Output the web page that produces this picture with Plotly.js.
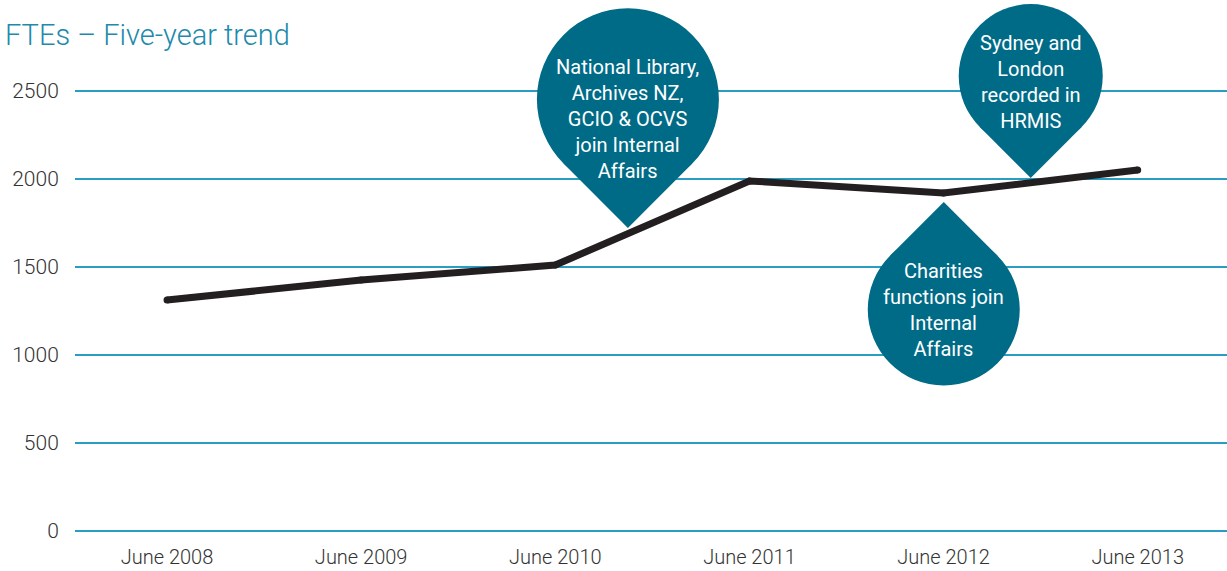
<!DOCTYPE html>
<html>
<head>
<meta charset="utf-8">
<script src="https://cdn.plot.ly/plotly-3.0.1.min.js"></script>
<style>html,body{margin:0;padding:0;background:#fff;}#chart{width:1227px;height:571px;}</style>
</head>
<body>
<div id="chart"></div>
<script>
const categories = ["June 2008", "June 2009", "June 2010", "June 2011", "June 2012", "June 2013"];
const ftes = [1312, 1426, 1511, 1989, 1920, 2051];
const yTicks = [0, 500, 1000, 1500, 2000, 2500];
const calloutTexts = [
  "National Library,<br>Archives NZ,<br>GCIO &amp; OCVS<br>join Internal<br>Affairs",
  "Sydney and<br>London<br>recorded in<br>HRMIS",
  "Charities<br>functions join<br>Internal<br>Affairs"
];

const teal = "#006b87";
const grid = "#2b9cc4";
const FONT = "Roboto, 'Noto Sans', sans-serif";
// callout geometry: tip anchor (category position, value), radius px, direction (+1 = circle above tip), text offset px
const callouts = [
  {ax: 2.374, ay: 1722, r: 91, dir: 1, textDy: -20},
  {ax: 4.449, ay: 2006, r: 72, dir: 1, textDy: -6},
  {ax: 4.001, ay: 1869, r: 76, dir: -1, textDy: 0}
];

const shapes = [];
const annotations = [];
callouts.forEach((c, i) => {
  const d = c.r * Math.SQRT2;
  const a = c.r / Math.SQRT2;
  const s = c.dir;
  shapes.push({
    type: "path", xref: "x", yref: "y", xsizemode: "pixel", ysizemode: "pixel",
    xanchor: c.ax, yanchor: c.ay,
    path: `M0,0 L${a},${s*a} L0,${s*d} L${-a},${s*a} Z`,
    fillcolor: teal, line: {width: 0}, layer: "above"
  });
  shapes.push({
    type: "circle", xref: "x", yref: "y", xsizemode: "pixel", ysizemode: "pixel",
    xanchor: c.ax, yanchor: c.ay,
    x0: -c.r, x1: c.r, y0: s*d - c.r, y1: s*d + c.r,
    fillcolor: teal, line: {width: 0}, layer: "above"
  });
  annotations.push({
    xref: "x", yref: "y", x: c.ax, y: c.ay, showarrow: true, arrowcolor: "rgba(0,0,0,0)",
    ax: 0, ay: -s * d - c.textDy,
    text: calloutTexts[i], align: "center",
    font: {family: FONT, size: 20, color: "#ffffff"}
  });
});

const trace = {
  type: "scatter", mode: "lines+markers", x: categories, y: ftes,
  line: {color: "#231f20", width: 7},
  marker: {color: "#231f20", size: 7, line: {width: 0}},
  hoverinfo: "skip", cliponaxis: false
};

const layout = {
  width: 1227, height: 571,
  margin: {l: 75, r: 0, t: 3, b: 40},
  paper_bgcolor: "#ffffff", plot_bgcolor: "#ffffff",
  showlegend: false,
  title: {
    text: "FTEs – Five-year trend", x: 5/1227, xanchor: "left", xref: "container",
    y: 1 - 35/571, yanchor: "middle", yref: "container",
    font: {family: FONT, size: 29, weight: 300, color: "#2189ab"}
  },
  xaxis: {
    type: "category", range: [-0.474, 5.46], showgrid: false, zeroline: false, showline: false,
    ticks: "outside", ticklen: 8, tickcolor: "rgba(0,0,0,0)",
    tickfont: {family: FONT, size: 20, weight: 300, color: "#333333"},
    fixedrange: true
  },
  yaxis: {
    range: [0, 3000], tickvals: yTicks, ticktext: yTicks.map(String),
    showgrid: true, gridcolor: grid, gridwidth: 1.5,
    zeroline: true, zerolinecolor: grid, zerolinewidth: 1.5, showline: false,
    ticks: "outside", ticklen: 11, tickcolor: "rgba(0,0,0,0)",
    tickfont: {family: FONT, size: 21, weight: 300, color: "#333333"},
    fixedrange: true
  },
  shapes: shapes,
  annotations: annotations
};

Plotly.newPlot("chart", [trace], layout, {displayModeBar: false, staticPlot: true});
</script>
</body>
</html>
